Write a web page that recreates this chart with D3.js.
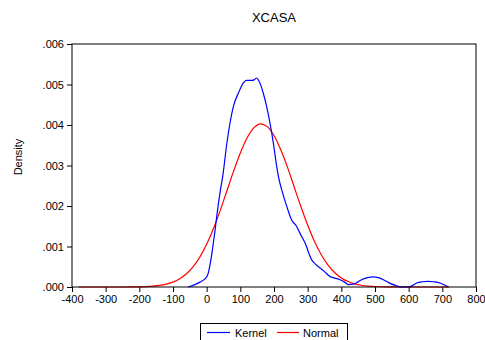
<!DOCTYPE html>
<html>
<head>
<meta charset="utf-8">
<script src="https://cdn.jsdelivr.net/npm/d3@7"></script>
<style>
  html, body { margin: 0; padding: 0; background: #fff; }
  svg { display: block; font-family: "Liberation Sans", Arial, sans-serif; }
</style>
</head>
<body>
<svg id="chart" width="485" height="340"></svg>
<script>
// Kernel density estimate of XCASA (x value, density in thousandths)
const kernelX = [-55, -40, -20, -5, 0, 5, 10, 15, 20, 25, 30, 40, 48, 60, 70, 80, 95, 109, 118, 124, 135, 142, 148, 153, 158, 168, 178, 188, 198, 208, 216, 223, 238, 252, 267, 277, 292, 312, 325, 337, 350, 366, 380, 396, 410, 421, 435, 448, 460, 478, 495, 510, 525, 545, 564, 580, 600, 612, 624, 640, 658, 675, 693, 706, 718];
const kernelY = [0, 0.04, 0.12, 0.2, 0.25, 0.35, 0.55, 0.8, 1.1, 1.4, 1.75, 2.35, 2.75, 3.55, 4.08, 4.48, 4.8, 5.04, 5.1, 5.1, 5.1, 5.12, 5.16, 5.12, 5.04, 4.79, 4.46, 4.05, 3.56, 2.98, 2.62, 2.4, 1.99, 1.66, 1.5, 1.33, 1.09, 0.67, 0.55, 0.47, 0.38, 0.26, 0.22, 0.18, 0.12, 0.06, 0.07, 0.12, 0.18, 0.23, 0.25, 0.23, 0.18, 0.09, 0.03, 0, 0, 0.04, 0.1, 0.13, 0.14, 0.13, 0.1, 0.05, 0];

// Fitted normal density (x value, density in thousandths)
const normalX = [-380, -300, -260, -220, -200, -180, -160, -140, -120, -100, -80, -60, -40, -20, 0, 20, 40, 60, 80, 100, 120, 140, 160, 180, 200, 220, 240, 260, 280, 300, 320, 340, 360, 380, 400, 420, 440, 460, 480, 500, 540, 600, 720];
const normalY = [0, 0.0001, 0.0005, 0.0024, 0.005, 0.0103, 0.0203, 0.0384, 0.0697, 0.121, 0.203, 0.326, 0.503, 0.744, 1.056, 1.44, 1.886, 2.37, 2.86, 3.31, 3.68, 3.93, 4.03, 3.96, 3.74, 3.39, 2.96, 2.47, 1.98, 1.53, 1.128, 0.801, 0.545, 0.357, 0.224, 0.135, 0.078, 0.0434, 0.0232, 0.0119, 0.0027, 0.0002, 0];

const xTicks = [-400, -300, -200, -100, 0, 100, 200, 300, 400, 500, 600, 700, 800];
const xTickLabels = ["-400", "-300", "-200", "-100", "0", "100", "200", "300", "400", "500", "600", "700", "800"];
const yTicks = [0, 0.001, 0.002, 0.003, 0.004, 0.005, 0.006];
const yTickLabels = [".000", ".001", ".002", ".003", ".004", ".005", ".006"];

const title = "XCASA";
const yTitle = "Density";
const seriesNames = ["Kernel", "Normal"];
const seriesColors = ["#0000ff", "#ff0000"];

const svg = d3.select("#chart");
const plotLeft = 72, plotRight = 476, plotTop = 44, plotBottom = 287;

const x = d3.scaleLinear().domain([-400, 800]).range([plotLeft, plotRight]);
const y = d3.scaleLinear().domain([0, 0.006]).range([plotBottom, plotTop]);

// Title
svg.append("text")
  .attr("x", (plotLeft + plotRight) / 2).attr("y", 22)
  .attr("text-anchor", "middle")
  .attr("font-size", 13).attr("fill", "#000")
  .text(title);

// Y axis label
svg.append("text")
  .attr("transform", "translate(22,157) rotate(-90)")
  .attr("text-anchor", "middle")
  .attr("font-size", 11).attr("fill", "#000")
  .text(yTitle);

// Axes
const xAxis = d3.axisBottom(x).tickValues(xTicks).tickSize(5).tickPadding(3)
  .tickFormat((d, i) => xTickLabels[i]);
const yAxis = d3.axisLeft(y).tickValues(yTicks).tickSize(5).tickPadding(3)
  .tickFormat((d, i) => yTickLabels[i]);

const gx = svg.append("g").attr("transform", `translate(0,${plotBottom})`).call(xAxis);
const gy = svg.append("g").attr("transform", `translate(${plotLeft},0)`).call(yAxis);
[gx, gy].forEach(g => {
  g.select(".domain").remove();
  g.selectAll("text").attr("font-size", 11).attr("fill", "#000")
    .attr("font-family", "'Liberation Sans', Arial, sans-serif");
  g.selectAll("line").attr("stroke", "#000");
});

// Curves
const line = d3.line()
  .x(d => x(d[0]))
  .y(d => y(d[1] / 1000))
  .curve(d3.curveMonotoneX);

const kernel = kernelX.map((v, i) => [v, kernelY[i]]);
const normal = normalX.map((v, i) => [v, normalY[i]]);

svg.append("path").datum(normal)
  .attr("d", line).attr("fill", "none")
  .attr("stroke", seriesColors[1]).attr("stroke-width", 1.2);
svg.append("path").datum(kernel)
  .attr("d", line).attr("fill", "none")
  .attr("stroke", seriesColors[0]).attr("stroke-width", 1.2);

// Plot frame
svg.append("rect")
  .attr("x", plotLeft).attr("y", plotTop)
  .attr("width", plotRight - plotLeft).attr("height", plotBottom - plotTop)
  .attr("fill", "none").attr("stroke", "#000").attr("stroke-width", 1);

// Legend
const lg = svg.append("g");
lg.append("rect")
  .attr("x", 200.5).attr("y", 323.5).attr("width", 147).attr("height", 30)
  .attr("fill", "#fff").attr("stroke", "#000").attr("stroke-width", 1);
const legendItems = [
  { x0: 207, x1: 230, tx: 235 },
  { x0: 277, x1: 299, tx: 303 }
];
legendItems.forEach((it, i) => {
  lg.append("line")
    .attr("x1", it.x0).attr("x2", it.x1).attr("y1", 332.5).attr("y2", 332.5)
    .attr("stroke", seriesColors[i]).attr("stroke-width", 1.2);
  lg.append("text")
    .attr("x", it.tx).attr("y", 336.5)
    .attr("font-size", 11).attr("fill", "#000")
    .text(seriesNames[i]);
});
</script>
</body>
</html>
